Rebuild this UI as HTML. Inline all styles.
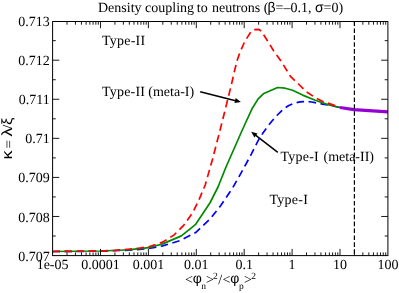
<!DOCTYPE html>
<html><head><meta charset="utf-8"><title>Density coupling to neutrons</title>
<style>
html,body{margin:0;padding:0;background:#fff;}
body{width:399px;height:293px;overflow:hidden;}
svg{display:block;will-change:transform;}
text{text-rendering:geometricPrecision;font-family:"Liberation Serif",serif;font-size:14px;fill:#000;}
.sym{font-family:"Liberation Sans",sans-serif;}
.ss{font-size:9.5px;}
</style></head><body>
<svg width="399" height="293" viewBox="0 0 399 293">
<rect x="0" y="0" width="399" height="293" fill="#fff"/>
<!-- title -->
<text x="98.0" y="11.8">Density coupling</text>
<text x="196.8" y="11.8">to</text>
<text x="212.0" y="11.8">neutrons (</text>
<text x="267.5" y="11.8" class="sym">β</text>
<text x="275.5" y="11.8">=–0.1,</text>
<text x="315.1" y="11.8" class="sym">σ</text>
<text x="323.5" y="11.8">=0)</text>
<!-- curves -->
<polyline points="52.5,251.5 100.0,251.2 130.0,250.2 148.8,248.4 162.6,245.9 180.1,240.6 195.7,232.6 210.2,218.8 220.2,206.3 232.6,188.0 239.2,176.3 246.0,164.0 251.3,154.1 255.1,146.5 258.8,139.3 262.6,133.6 267.1,127.2 271.6,121.5 276.9,115.5 281.3,111.2 285.0,107.9 288.8,105.5 292.6,103.9 296.3,102.7 300.1,101.9 303.8,101.6 307.6,101.6 311.4,102.0 315.1,102.7 318.9,103.3 322.6,104.1 327.9,105.0 333.0,106.0 340.0,107.6" fill="none" stroke="#0000ff" stroke-width="1.7" stroke-dasharray="7.53 4.53" stroke-linejoin="round"/>
<polyline points="52.5,251.5 100.0,251.0 125.0,250.0 130.0,249.7 148.8,247.7 162.6,243.9 181.4,235.9 195.7,224.3 210.2,202.5 218.0,187.0 226.0,167.0 242.3,130.0 245.7,122.5 252.0,108.8 258.0,99.1 263.3,93.8 277.6,87.5 285.1,88.2 292.6,90.3 302.6,95.1 315.3,100.2 327.9,104.6 340.0,107.5" fill="none" stroke="#008b00" stroke-width="1.7" stroke-linejoin="round"/>
<polyline points="52.5,251.5 100.0,251.0 115.0,250.4 130.0,249.0 140.0,248.0 148.8,246.8 162.6,242.1 173.9,235.1 183.9,225.1 192.7,212.6 198.9,200.0 205.2,185.0 212.6,158.9 218.8,135.0 225.1,110.1 231.3,85.0 234.7,70.0 237.5,59.4 240.3,51.5 245.0,41.0 251.0,31.8 254.0,29.6 258.6,29.3 261.6,31.3 263.4,34.3 267.6,41.0 273.6,50.8 281.1,61.2 290.5,76.4 299.5,85.0 306.4,91.9 315.3,97.6 322.8,101.4 332.9,104.9 340.0,107.5" fill="none" stroke="#ff0000" stroke-width="1.7" stroke-dasharray="7.52 4.5" stroke-linejoin="round"/>
<polyline points="340.0,107.5 353.9,109.6 388.0,111.8" fill="none" stroke="#9400d3" stroke-width="3.2" stroke-linejoin="round"/>
<line x1="354.4" y1="21.5" x2="354.4" y2="255.6" stroke="#000" stroke-width="1.2" stroke-dasharray="4.6 2.3"/>
<!-- frame + ticks -->
<rect x="52.6" y="21.5" width="335.3" height="234.1" fill="none" stroke="#000" stroke-width="1.0"/>
<path d="M67.02 255.6 v-3.2 M67.02 21.5 v3.2 M75.45 255.6 v-3.2 M75.45 21.5 v3.2 M81.44 255.6 v-3.2 M81.44 21.5 v3.2 M86.08 255.6 v-3.2 M86.08 21.5 v3.2 M89.87 255.6 v-3.2 M89.87 21.5 v3.2 M93.08 255.6 v-3.2 M93.08 21.5 v3.2 M95.86 255.6 v-3.2 M95.86 21.5 v3.2 M98.31 255.6 v-3.2 M98.31 21.5 v3.2 M100.50 255.6 v-6.7 M100.50 21.5 v6.7 M114.92 255.6 v-3.2 M114.92 21.5 v3.2 M123.35 255.6 v-3.2 M123.35 21.5 v3.2 M129.34 255.6 v-3.2 M129.34 21.5 v3.2 M133.98 255.6 v-3.2 M133.98 21.5 v3.2 M137.77 255.6 v-3.2 M137.77 21.5 v3.2 M140.98 255.6 v-3.2 M140.98 21.5 v3.2 M143.76 255.6 v-3.2 M143.76 21.5 v3.2 M146.21 255.6 v-3.2 M146.21 21.5 v3.2 M148.40 255.6 v-6.7 M148.40 21.5 v6.7 M162.82 255.6 v-3.2 M162.82 21.5 v3.2 M171.25 255.6 v-3.2 M171.25 21.5 v3.2 M177.24 255.6 v-3.2 M177.24 21.5 v3.2 M181.88 255.6 v-3.2 M181.88 21.5 v3.2 M185.67 255.6 v-3.2 M185.67 21.5 v3.2 M188.88 255.6 v-3.2 M188.88 21.5 v3.2 M191.66 255.6 v-3.2 M191.66 21.5 v3.2 M194.11 255.6 v-3.2 M194.11 21.5 v3.2 M196.30 255.6 v-6.7 M196.30 21.5 v6.7 M210.72 255.6 v-3.2 M210.72 21.5 v3.2 M219.15 255.6 v-3.2 M219.15 21.5 v3.2 M225.14 255.6 v-3.2 M225.14 21.5 v3.2 M229.78 255.6 v-3.2 M229.78 21.5 v3.2 M233.57 255.6 v-3.2 M233.57 21.5 v3.2 M236.78 255.6 v-3.2 M236.78 21.5 v3.2 M239.56 255.6 v-3.2 M239.56 21.5 v3.2 M242.01 255.6 v-3.2 M242.01 21.5 v3.2 M244.20 255.6 v-6.7 M244.20 21.5 v6.7 M258.62 255.6 v-3.2 M258.62 21.5 v3.2 M267.05 255.6 v-3.2 M267.05 21.5 v3.2 M273.04 255.6 v-3.2 M273.04 21.5 v3.2 M277.68 255.6 v-3.2 M277.68 21.5 v3.2 M281.47 255.6 v-3.2 M281.47 21.5 v3.2 M284.68 255.6 v-3.2 M284.68 21.5 v3.2 M287.46 255.6 v-3.2 M287.46 21.5 v3.2 M289.91 255.6 v-3.2 M289.91 21.5 v3.2 M292.10 255.6 v-6.7 M292.10 21.5 v6.7 M306.52 255.6 v-3.2 M306.52 21.5 v3.2 M314.95 255.6 v-3.2 M314.95 21.5 v3.2 M320.94 255.6 v-3.2 M320.94 21.5 v3.2 M325.58 255.6 v-3.2 M325.58 21.5 v3.2 M329.37 255.6 v-3.2 M329.37 21.5 v3.2 M332.58 255.6 v-3.2 M332.58 21.5 v3.2 M335.36 255.6 v-3.2 M335.36 21.5 v3.2 M337.81 255.6 v-3.2 M337.81 21.5 v3.2 M340.00 255.6 v-6.7 M340.00 21.5 v6.7 M354.42 255.6 v-3.2 M354.42 21.5 v3.2 M362.85 255.6 v-3.2 M362.85 21.5 v3.2 M368.84 255.6 v-3.2 M368.84 21.5 v3.2 M373.48 255.6 v-3.2 M373.48 21.5 v3.2 M377.27 255.6 v-3.2 M377.27 21.5 v3.2 M380.48 255.6 v-3.2 M380.48 21.5 v3.2 M383.26 255.6 v-3.2 M383.26 21.5 v3.2 M385.71 255.6 v-3.2 M385.71 21.5 v3.2 M52.6 236.02 h3.2 M387.9 236.02 h-3.2 M52.6 216.48 h6.7 M387.9 216.48 h-6.7 M52.6 196.95 h3.2 M387.9 196.95 h-3.2 M52.6 177.41 h6.7 M387.9 177.41 h-6.7 M52.6 157.88 h3.2 M387.9 157.88 h-3.2 M52.6 138.34 h6.7 M387.9 138.34 h-6.7 M52.6 118.81 h3.2 M387.9 118.81 h-3.2 M52.6 99.27 h6.7 M387.9 99.27 h-6.7 M52.6 79.74 h3.2 M387.9 79.74 h-3.2 M52.6 60.20 h6.7 M387.9 60.20 h-6.7 M52.6 40.67 h3.2 M387.9 40.67 h-3.2" fill="none" stroke="#000" stroke-width="0.9"/>
<!-- tick labels -->
<text x="49.7" y="260.6" text-anchor="end">0.707</text>
<text x="49.7" y="221.5" text-anchor="end">0.708</text>
<text x="49.7" y="182.4" text-anchor="end">0.709</text>
<text x="49.7" y="143.3" text-anchor="end">0.71</text>
<text x="49.7" y="104.3" text-anchor="end">0.711</text>
<text x="49.7" y="65.2" text-anchor="end">0.712</text>
<text x="49.7" y="26.1" text-anchor="end">0.713</text>
<text x="52.6" y="268.9" text-anchor="middle">1e-05</text>
<text x="100.5" y="268.9" text-anchor="middle">0.0001</text>
<text x="148.4" y="268.9" text-anchor="middle">0.001</text>
<text x="196.3" y="268.9" text-anchor="middle">0.01</text>
<text x="244.2" y="268.9" text-anchor="middle">0.1</text>
<text x="292.1" y="268.9" text-anchor="middle">1</text>
<text x="340.0" y="268.9" text-anchor="middle">10</text>
<text x="387.9" y="268.9" text-anchor="middle">100</text>

<!-- y axis label -->
<g transform="translate(12,157.9) rotate(-90)">
<text transform="translate(-1.6,0) scale(1.2,1)" class="sym" style="font-size:14.8px">κ</text>
<text transform="translate(9.4,0.8) scale(1.06,1)">=</text>
<text transform="translate(21.5,0) scale(1.2,1)" class="sym" style="font-size:14.8px">λ</text>
<text transform="translate(29.2,0)">/</text>
<text transform="translate(32.8,0) scale(1.12,1)" class="sym" style="font-size:14.8px">ξ</text>
</g>
<!-- x axis label -->
<g>
<text x="185.0" y="283.8">&lt;</text>
<text x="192.8" y="283.4" class="sym">φ</text>
<text x="201.2" y="289.0" class="ss">n</text>
<text x="206.1" y="283.8">&gt;</text>
<text x="213.1" y="279.1" class="ss">2</text>
<text x="218.3" y="283.6">/</text>
<text x="222.6" y="283.8">&lt;</text>
<text x="230.3" y="283.4" class="sym">φ</text>
<text x="239.0" y="288.8" class="ss">p</text>
<text x="244.1" y="283.8">&gt;</text>
<text x="251.3" y="279.1" class="ss">2</text>
</g>
<!-- annotations -->
<text x="102.1" y="44.9" letter-spacing="0.2">Type-II</text>
<text x="102.0" y="95.5" letter-spacing="0.2">Type-II</text>
<text x="148.3" y="95.5">(meta-I)</text>
<text x="280.4" y="160.6" letter-spacing="0.25">Type-I</text>
<text x="323.5" y="160.6">(meta-II)</text>
<text x="269.5" y="204" letter-spacing="0.26">Type-I</text>
<!-- arrows -->
<line x1="200.2" y1="91.7" x2="235.6" y2="100.7" stroke="#000" stroke-width="1.5"/>
<polygon points="240.9,102.0 234.5,103.0 235.7,98.1" fill="#000"/>
<line x1="277.8" y1="152.4" x2="255.5" y2="135.1" stroke="#000" stroke-width="1.5"/>
<polygon points="251.2,131.7 257.5,133.4 254.4,137.4" fill="#000"/>
</svg>
</body></html>
